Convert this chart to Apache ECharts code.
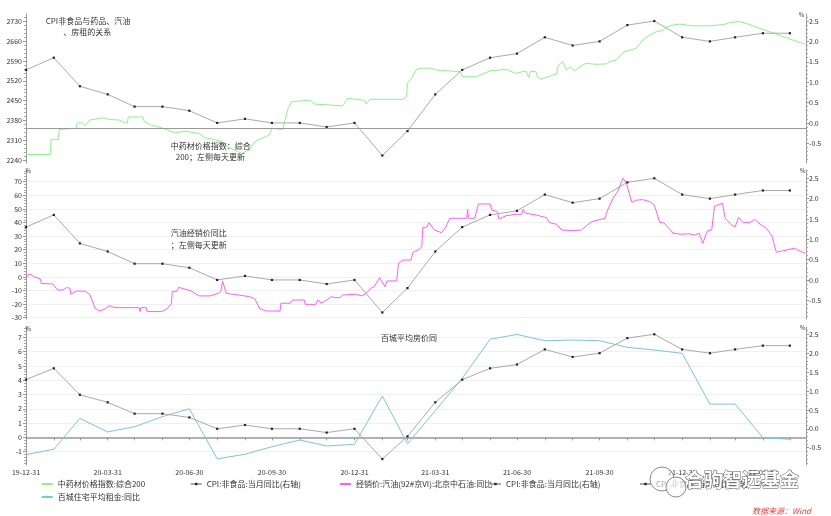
<!DOCTYPE html>
<html><head><meta charset="utf-8">
<script src="https://cdn.jsdelivr.net/npm/echarts@6/dist/echarts.min.js"></script>
<style>html,body{margin:0;padding:0;background:#fff}#c{width:831px;height:516px}</style>
</head><body><div id="c"></div>
<script>
// ---------- data ----------
const monthDates = ['2019-12-31','2020-01-31','2020-02-29','2020-03-31','2020-04-30','2020-05-31','2020-06-30','2020-07-31','2020-08-31','2020-09-30','2020-10-31','2020-11-30','2020-12-31','2021-01-31','2021-02-28','2021-03-31','2021-04-30','2021-05-31','2021-06-30','2021-07-31','2021-08-31','2021-09-30','2021-10-31','2021-11-30','2021-12-31','2022-01-31','2022-02-28','2022-03-31','2022-04-30'];
const cpiNonFood = [1.3,1.6,0.9,0.7,0.4,0.4,0.3,0.0,0.1,0.0,0.0,-0.1,0.0,-0.8,-0.2,0.7,1.3,1.6,1.7,2.1,1.9,2.0,2.4,2.5,2.1,2.0,2.1,2.2,2.2];
const rentYoY = [-1.2,-0.83,1.33,0.38,0.75,1.45,2.0,-1.5,-1.18,-0.65,-0.18,-0.6,-0.48,2.9,-0.44,1.87,4.13,6.86,7.2,6.76,6.81,6.76,6.3,6.11,5.88,2.33,2.33,-0.02,-0.13];

const herbDates = ['2019-12-31','2020-01-27','2020-01-28','2020-02-05','2020-02-06','2020-02-25','2020-02-26','2020-03-03','2020-03-06','2020-03-11','2020-03-22','2020-03-26','2020-04-02','2020-04-13','2020-04-19','2020-04-22','2020-04-23','2020-05-09','2020-05-11','2020-05-19','2020-05-30','2020-06-14','2020-06-25','2020-07-11','2020-07-17','2020-07-28','2020-08-05','2020-08-12','2020-08-25','2020-08-28','2020-09-05','2020-09-11','2020-09-20','2020-09-27','2020-09-30','2020-10-12','2020-10-18','2020-10-22','2020-11-11','2020-11-17','2020-12-18','2020-12-23','2021-01-11','2021-01-13','2021-01-17','2021-02-23','2021-02-27','2021-02-28','2021-03-05','2021-03-10','2021-03-17','2021-03-27','2021-03-31','2021-04-28','2021-04-30','2021-05-16','2021-05-31','2021-06-18','2021-06-29','2021-07-10','2021-07-13','2021-07-15','2021-07-21','2021-07-23','2021-07-27','2021-08-13','2021-08-15','2021-08-20','2021-08-24','2021-08-28','2021-09-02','2021-09-11','2021-09-15','2021-09-26','2021-10-07','2021-10-11','2021-10-19','2021-10-26','2021-11-10','2021-11-17','2021-11-25','2021-12-02','2021-12-10','2021-12-13','2021-12-21','2021-12-28','2022-01-12','2022-01-31','2022-02-16','2022-02-22','2022-03-05','2022-03-12','2022-05-17'];
const herbIndex = [2261,2261,2314,2314,2349,2353,2372,2372,2363,2382,2388,2390,2384,2382,2372,2372,2393,2393,2376,2364,2355,2337,2343,2335,2320,2314,2306,2288,2268,2265,2279,2306,2320,2329,2353,2349,2423,2446,2452,2438,2432,2458,2452,2438,2455,2455,2464,2511,2532,2560,2564,2564,2558,2552,2534,2534,2555,2560,2546,2555,2532,2554,2552,2532,2526,2544,2575,2587,2558,2569,2555,2575,2581,2578,2579,2587,2593,2620,2634,2663,2681,2692,2698,2708,2716,2719,2713,2713,2718,2725,2728,2722,2648];

const oilDates = ['2019-12-31','2020-01-03','2020-01-06','2020-01-08','2020-01-10','2020-01-16','2020-01-17','2020-01-30','2020-02-04','2020-02-10','2020-02-14','2020-02-18','2020-02-19','2020-02-25','2020-03-06','2020-03-11','2020-03-17','2020-03-22','2020-03-28','2020-04-02','2020-04-08','2020-05-05','2020-05-06','2020-05-07','2020-05-13','2020-05-14','2020-05-30','2020-06-05','2020-06-10','2020-06-11','2020-06-16','2020-06-18','2020-06-25','2020-07-02','2020-07-11','2020-07-23','2020-08-01','2020-08-04','2020-08-06','2020-08-10','2020-08-18','2020-09-05','2020-09-11','2020-09-16','2020-09-24','2020-10-09','2020-10-10','2020-10-20','2020-10-23','2020-11-05','2020-11-06','2020-11-18','2020-11-20','2020-11-24','2020-11-30','2020-12-05','2020-12-09','2020-12-15','2020-12-18','2021-01-02','2021-01-08','2021-01-13','2021-01-19','2021-01-22','2021-01-28','2021-02-03','2021-02-05','2021-02-16','2021-02-18','2021-02-23','2021-03-04','2021-03-06','2021-03-12','2021-03-16','2021-03-17','2021-03-21','2021-03-24','2021-03-30','2021-04-07','2021-04-12','2021-04-16','2021-05-05','2021-05-06','2021-05-07','2021-05-14','2021-05-18','2021-05-31','2021-06-02','2021-06-08','2021-06-10','2021-06-18','2021-06-29','2021-07-05','2021-07-07','2021-07-09','2021-07-22','2021-08-02','2021-08-05','2021-08-13','2021-08-19','2021-09-01','2021-09-10','2021-09-15','2021-09-21','2021-10-06','2021-10-09','2021-10-15','2021-10-20','2021-10-26','2021-10-30','2021-11-02','2021-11-05','2021-11-10','2021-11-17','2021-11-25','2021-11-30','2021-12-06','2021-12-11','2021-12-21','2021-12-30','2022-01-08','2022-01-14','2022-01-19','2022-01-23','2022-01-28','2022-02-02','2022-02-05','2022-02-09','2022-02-14','2022-02-17','2022-02-24','2022-02-28','2022-03-04','2022-03-09','2022-03-16','2022-03-22','2022-03-28','2022-04-04','2022-04-10','2022-04-15','2022-04-22','2022-05-05','2022-05-11','2022-05-17'];
const oilYoY = [-1.0,1.9,1.9,0.2,-1.0,-1.5,-4.8,-5.2,-9.6,-9.6,-7.9,-8.3,-12.8,-10.4,-10.6,-12.8,-23.1,-25.1,-23.6,-21.1,-22.6,-22.6,-25.5,-22.6,-22.6,-25.5,-25.5,-23.6,-19.4,-10.8,-10.8,-7.7,-8.9,-10.4,-14.0,-14.0,-12.1,-10.8,-3.0,-12.1,-12.8,-14.5,-16.2,-23.1,-25.1,-25.1,-19.4,-19.4,-17.0,-17.0,-20.2,-20.2,-17.0,-19.4,-17.0,-14.5,-15.2,-15.2,-13.3,-12.8,-14.0,-12.1,-7.9,-7.2,-0.6,-7.2,-3.0,-3.0,10.0,12.4,12.4,18.1,19.8,22.2,36.2,36.2,39.9,34.5,32.5,36.9,43.1,43.1,49.7,43.1,43.1,53.6,53.6,49.2,48.0,42.6,45.0,46.0,46.0,49.7,47.0,45.4,43.5,39.9,38.7,34.5,34.0,34.5,37.4,40.6,43.1,49.2,57.8,62.6,72.5,68.8,61.5,54.9,56.4,56.8,55.4,52.9,40.2,39.6,32.1,31.4,31.7,30.8,32.1,24.7,33.8,34.5,52.1,52.9,54.1,43.1,38.2,36.9,43.8,39.9,39.9,42.3,38.7,35.7,30.1,18.1,19.1,21.1,19.1,17.4];

const herbTicks = [2240,2310,2380,2450,2520,2590,2660,2730];
const cpiTicks = [-0.5,0,0.5,1,1.5,2,2.5];
const oilTicks = [-30,-20,-10,0,10,20,30,40,50,60,70];
const rentTicks = [-1,0,1,2,3,4,5,6,7];
const xTickLabels = ['2019-12-31','2020-03-31','2020-06-30','2020-09-30','2020-12-31','2021-03-31','2021-06-30','2021-09-30','2021-12-31','2022-03-31'];
const herbRefLine = 2355;

const nameHerb = '中药材价格指数:综合200';
const nameCpi1 = 'CPI:非食品:当月同比(右轴)';
const nameOil = '经销价:汽油(92#京VI):北京中石油:同比';
const nameCpi2 = 'CPI:非食品:当月同比(右轴) ';
const nameCpi3 = 'CPI:非食品:当月同比(右轴)  ';
const nameRent = '百城住宅平均租金:同比';

// ---------- helpers ----------
const FONT = '"Noto Sans CJK SC", "Noto Sans", sans-serif';
const ts = s => { const p = s.split('-'); return new Date(+p[0], +p[1] - 1, +p[2]).getTime(); };
const X_MIN = ts('2019-12-31'), X_MAX = ts('2022-05-18');
const pair = (ds, vs) => ds.map((d, i) => [ts(d), vs[i]]);
function minorList(ticks, step, min, max) {
  const out = [];
  for (let v = ticks[0]; v >= min - 1e-9; v -= step) out.push(+v.toFixed(4));
  for (let v = ticks[0] + step; v <= max + 1e-9; v += step) out.push(+v.toFixed(4));
  return out.filter(v => !ticks.some(t => Math.abs(t - v) < 1e-6));
}
function yMajor(grid, pos, min, max, ticks, fmt, split) {
  return {
    type: 'value', gridIndex: grid, position: pos, min, max,
    axisLine: { show: true, lineStyle: { color: '#999', width: 1 } },
    axisTick: { show: true, customValues: ticks, length: 3, lineStyle: { color: '#999' } },
    axisLabel: { customValues: ticks, fontSize: 7, color: '#333', margin: pos === 'left' ? 4 : 3, fontFamily: FONT, formatter: fmt },
    splitLine: { show: !!split, lineStyle: { color: '#f0f0f0', width: 1 } }
  };
}
function yMinor(grid, pos, min, max, ticks, step) {
  return {
    type: 'value', gridIndex: grid, position: pos, min, max,
    axisLine: { show: false },
    axisTick: { show: true, customValues: minorList(ticks, step, min, max), length: 2, lineStyle: { color: '#aaa' } },
    axisLabel: { show: false }, splitLine: { show: false }
  };
}
const pad = n => (n < 10 ? '0' : '') + n;
const fmtDate = v => { const d = new Date(v); return String(d.getFullYear()).slice(2) + '-' + pad(d.getMonth() + 1) + '-' + pad(d.getDate()); };
const f1 = v => v.toFixed(1);
const f0 = v => String(Math.round(v));

const grids = [
  { left: 26, right: 25, top: 14, height: 149 },
  { left: 26, right: 25, top: 170, height: 149 },
  { left: 26, right: 25, top: 327, height: 138 }
];

const ext = {
  herb: [2231.2, 2754.6], cpi1: [-0.983, 2.672],
  oil: [-30.96, 78.6], cpi2: [-0.96, 2.704],
  rent: [-1.93, 7.72], cpi3: [-0.958, 2.693]
};

const yAxis = [
  yMajor(0, 'left', ext.herb[0], ext.herb[1], herbTicks, f0, false),
  yMajor(0, 'right', ext.cpi1[0], ext.cpi1[1], cpiTicks, f1, false),
  yMajor(1, 'left', ext.oil[0], ext.oil[1], oilTicks, f0, true),
  yMajor(1, 'right', ext.cpi2[0], ext.cpi2[1], cpiTicks, f1, false),
  yMajor(2, 'left', ext.rent[0], ext.rent[1], rentTicks, f0, true),
  yMajor(2, 'right', ext.cpi3[0], ext.cpi3[1], cpiTicks, f1, false),
  yMinor(0, 'left', ext.herb[0], ext.herb[1], herbTicks, 14),
  yMinor(0, 'right', ext.cpi1[0], ext.cpi1[1], cpiTicks, 0.1),
  yMinor(1, 'left', ext.oil[0], ext.oil[1], oilTicks, 2),
  yMinor(1, 'right', ext.cpi2[0], ext.cpi2[1], cpiTicks, 0.1),
  yMinor(2, 'left', ext.rent[0], ext.rent[1], rentTicks, 0.2),
  yMinor(2, 'right', ext.cpi3[0], ext.cpi3[1], cpiTicks, 0.1)
];

const xAxis = [
  { type: 'value', gridIndex: 0, min: X_MIN, max: X_MAX, show: false, splitLine: { show: false } },
  { type: 'value', gridIndex: 1, min: X_MIN, max: X_MAX, show: false, splitLine: { show: false } },
  { type: 'value', gridIndex: 2, min: X_MIN, max: X_MAX,
    axisLine: { show: true, lineStyle: { color: '#999', width: 1.5 } },
    axisTick: { show: true, customValues: monthDates.map(ts), length: 3, lineStyle: { color: '#999' } },
    axisLabel: { customValues: xTickLabels.map(ts), formatter: fmtDate, fontSize: 7, color: '#333', margin: 4, fontFamily: FONT, hideOverlap: false },
    splitLine: { show: false } }
];

const cpiSeries = (name, xi, yi) => ({
  name, type: 'line', xAxisIndex: xi, yAxisIndex: yi,
  data: pair(monthDates, cpiNonFood),
  symbol: 'rect', symbolSize: 2.2, showSymbol: true,
  lineStyle: { color: '#aaaaaa', width: 1 }, itemStyle: { color: '#222' }, z: 3
});
const plain = (name, xi, yi, data, color) => ({
  name, type: 'line', xAxisIndex: xi, yAxisIndex: yi, data,
  symbol: 'none', lineStyle: { color, width: 1 }, itemStyle: { color }, z: 2
});

const series = [
  Object.assign(plain(nameHerb, 0, 0, pair(herbDates, herbIndex), '#90f08c'), {
    markLine: { silent: true, symbol: 'none', label: { show: false },
      lineStyle: { color: '#999', width: 1, type: 'solid' }, data: [{ yAxis: herbRefLine }] }
  }),
  cpiSeries(nameCpi1, 0, 1),
  plain(nameOil, 1, 2, pair(oilDates, oilYoY), '#ff5cff'),
  cpiSeries(nameCpi2, 1, 3),
  cpiSeries(nameCpi3, 2, 5),
  plain(nameRent, 2, 4, pair(monthDates, rentYoY), '#7cc5dc')
];

const legendBase = (name, left, top) => ({
  data: [name], left, top, padding: 0, itemWidth: 11, itemHeight: 3, itemGap: 0,
  formatter: n => n.trim(), selectedMode: false,
  textStyle: { fontSize: 8, color: '#333', fontFamily: FONT }
});
const legend = [
  legendBase(nameHerb, 40.7, 480),
  legendBase(nameCpi1, 189.7, 480),
  legendBase(nameOil, 339, 480),
  legendBase(nameCpi2, 489, 480),
  legendBase(nameCpi3, 639, 480),
  legendBase(nameRent, 40.7, 493)
];

const txt = (text, x, y, extra) => ({
  type: 'text', x, y, z: 50, silent: true,
  style: Object.assign({ text, fill: '#333', font: '8px ' + FONT, align: 'left', verticalAlign: 'middle' }, extra || {})
});
const graphic = [
  txt('CPI非食品与药品、汽油', 45.7, 21),
  txt('、房租的关系', 63.3, 32.3),
  txt('中药材价格指数：综合', 170.7, 145.7),
  txt('200；左侧每天更新', 175.7, 157.3),
  txt('汽油经销价同比', 170.7, 233.3),
  txt('；左侧每天更新', 170.7, 245),
  txt('百城平均房价同', 381, 338.3),
  txt('%', 801.5, 14.5, { font: '6px ' + FONT, align: 'center' }),
  txt('%', 28.3, 171, { font: '6px ' + FONT, align: 'center' }),
  txt('%', 802.7, 171, { font: '6px ' + FONT, align: 'center' }),
  txt('%', 28.3, 328.3, { font: '6px ' + FONT, align: 'center' }),
  txt('%', 802.7, 327.5, { font: '6px ' + FONT, align: 'center' }),
  txt('数据来源：Wind', 752, 510.7, { fill: '#ee3b3b', font: 'italic 8px ' + FONT }),
  { type: 'circle', z: 60, silent: true, shape: { cx: 662, cy: 479, r: 12 }, style: { fill: 'rgba(255,255,255,0.55)', stroke: '#8a8a8a', lineWidth: 1 } },
  { type: 'circle', z: 61, silent: true, shape: { cx: 676, cy: 487, r: 10 }, style: { fill: 'rgba(255,255,255,0.75)', stroke: '#8a8a8a', lineWidth: 1 } },
  txt('合驹智远基金', 685, 480, { font: 'bold 19px ' + FONT, fill: '#ffffff', stroke: '#555', lineWidth: 1 })
];
graphic[graphic.length - 1].z = 62;

const chart = echarts.init(document.getElementById('c'), null, { renderer: 'canvas' });
chart.setOption({
  animation: false,
  backgroundColor: '#fff',
  grid: grids, xAxis, yAxis, series, legend, graphic
});
</script></body></html>
